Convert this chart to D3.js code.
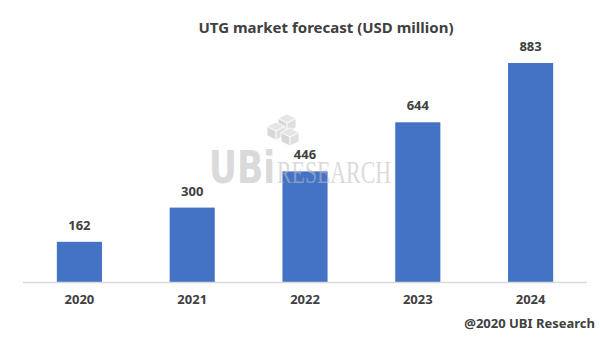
<!DOCTYPE html>
<html><head><meta charset="utf-8">
<script src="https://cdn.jsdelivr.net/npm/d3@7"></script>
<style>body{margin:0;background:#fff}svg{display:block}</style>
</head><body>
<script>
const categories = ["2020","2021","2022","2023","2024"];
const values = [162,300,446,644,883];
const title = "UTG market forecast (USD million)";
const footer = "@2020 UBI Research";

const W=600,H=337;
const svg=d3.select("body").append("svg").attr("width",W).attr("height",H);
const font="'Noto Sans', 'Open Sans', sans-serif";
const txt="#404040";

const x=d3.scaleBand().domain(categories).range([23,587]).paddingInner(0.6).paddingOuter(0.3);
const y=d3.scaleLinear().domain([0,1000]).range([282,34]);

// title
svg.append("text").attr("x",326).attr("y",33).attr("text-anchor","middle")
  .attr("font-family",font).attr("font-weight","bold").attr("font-size",15).attr("fill",txt).text(title);

// bars
svg.append("g").selectAll("rect").data(values).join("rect")
  .attr("x",(d,i)=>x(categories[i])).attr("width",x.bandwidth())
  .attr("y",d=>y(d)).attr("height",d=>y(0)-y(d)).attr("fill","#4472C4");

// axis
const ax=svg.append("g").attr("transform",`translate(0,${y(0)})`)
  .call(d3.axisBottom(x).tickSize(0).tickPadding(13));
ax.select(".domain").attr("stroke","#d9d9d9").attr("stroke-width",1.3).attr("d","M23,0.5H587");
ax.selectAll("text").attr("font-family",font).attr("font-weight","bold").attr("font-size",13).attr("fill",txt);

// value labels
svg.append("g").selectAll("text").data(values).join("text")
  .attr("x",(d,i)=>x(categories[i])+x.bandwidth()/2).attr("y",d=>y(d)-12)
  .attr("text-anchor","middle").attr("font-family",font).attr("font-weight","bold")
  .attr("font-size",13).attr("fill",txt).text(d=>d);

// watermark
const wm=svg.append("g").attr("fill","#bdbdbd").attr("opacity",0.55);
wm.append("text").attr("x",209).attr("y",183).attr("font-family","'DejaVu Sans', sans-serif")
  .attr("font-weight","bold").attr("font-size",44).attr("textLength",66).attr("lengthAdjust","spacingAndGlyphs").text("UBi");
wm.append("text").attr("x",277).attr("y",183).attr("font-family","'Liberation Serif', serif")
  .attr("font-size",32).attr("textLength",114).attr("lengthAdjust","spacingAndGlyphs").text("RESEARCH");
// cube logo
const cx=282, cy=129, s=9;
const cube=(ox,oy)=>[
  `M${ox},${oy-s} L${ox+s},${oy-s/2} L${ox},${oy} L${ox-s},${oy-s/2}Z`,
  `M${ox-s},${oy-s/2} L${ox},${oy} L${ox},${oy+s} L${ox-s},${oy+s/2}Z`,
  `M${ox+s},${oy-s/2} L${ox},${oy} L${ox},${oy+s} L${ox+s},${oy+s/2}Z`];
const cubes=[[cx+5,cy-6],[cx-6,cy+2],[cx+8,cy+8]];
cubes.forEach(([a,b])=>cube(a,b).forEach((p,i)=>wm.append("path").attr("d",p)
  .attr("fill",["#d0d0d0","#b8b8b8","#c6c6c6"][i]).attr("stroke","#fff").attr("stroke-width",0.8)));

// footer
svg.append("text").attr("x",595).attr("y",328).attr("text-anchor","end")
  .attr("font-family",font).attr("font-weight","bold").attr("font-size",13).attr("fill",txt).text(footer);
</script>
</body></html>
